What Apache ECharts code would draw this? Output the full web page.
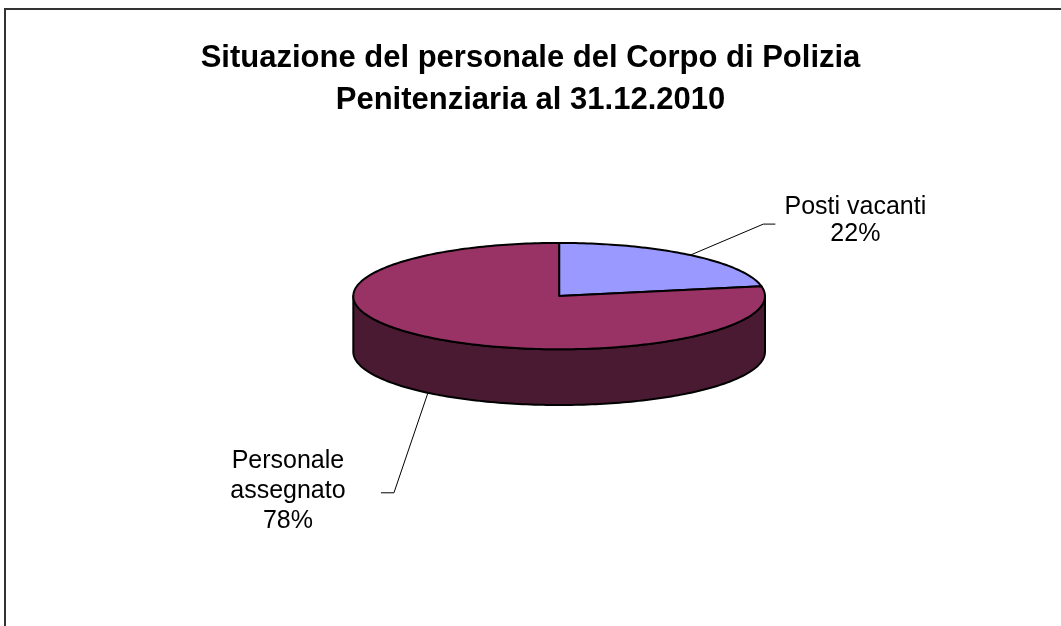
<!DOCTYPE html>
<html>
<head>
<meta charset="utf-8">
<script src="https://cdn.jsdelivr.net/npm/echarts@6/dist/echarts.min.js"></script>
<style>
  html, body { margin: 0; padding: 0; background: #fff; }
  #chart { width: 1061px; height: 626px; }
</style>
</head>
<body>
<div id="chart"></div>
<script>
// dati del grafico
var sliceNames = ['Posti vacanti', 'Personale assegnato'];
var sliceLabels = ['Posti vacanti', 'Personale\nassegnato'];
var sliceValues = [22, 78];
var sliceColors = ['#9999FF', '#993366'];
var sideColors = ['#4D4D80', '#4A1A33'];

var total = sliceValues.reduce(function (a, b) { return a + b; }, 0);

// label placement (offsets from the slice anchor on the rim)
var leaderOffsets = [[73, -31, 12], [-34, 100, -13]];
var textOffsets = [[80, -3, 'center', 27], [-93, -2, 'center', 30]];

function renderSlice(params, api) {
  var i = params.dataIndex;
  var w = api.getWidth(), h = api.getHeight();
  var cx = w * 0.527, cy = h * 0.473;
  var rx = w * 0.194, ry = h * 0.085, depth = h * 0.089;

  var start = 0;
  for (var k = 0; k < i; k++) start += sliceValues[k];
  var a0 = start / total * Math.PI * 2;
  var a1 = (start + api.value(0)) / total * Math.PI * 2;

  function pt(a, dy) {
    return [cx + rx * Math.sin(a), cy - ry * Math.cos(a) + (dy || 0)];
  }
  function arc(from, to, dy) {
    var pts = [], n = Math.max(4, Math.ceil(Math.abs(to - from) / 0.02));
    for (var s = 0; s <= n; s++) pts.push(pt(from + (to - from) * s / n, dy));
    return pts;
  }

  var children = [];
  // lato visibile (metà anteriore)
  var s0 = Math.max(a0, Math.PI / 2), s1 = Math.min(a1, Math.PI * 1.5);
  if (s1 > s0) {
    var side = arc(s0, s1, 0).concat(arc(s1, s0, depth));
    children.push({
      type: 'polygon', z2: 1,
      shape: { points: side },
      style: { fill: sideColors[i], stroke: '#000', lineWidth: 2, lineJoin: 'round' }
    });
  }
  // faccia superiore
  children.push({
    type: 'polygon', z2: 2,
    shape: { points: [[cx, cy]].concat(arc(a0, a1, 0)) },
    style: { fill: sliceColors[i], stroke: '#000', lineWidth: 2, lineJoin: 'round' }
  });

  // linea guida ed etichetta
  var mid = (a0 + a1) / 2;
  var onFront = mid > Math.PI / 2 && mid < Math.PI * 1.5;
  var p0 = pt(mid, onFront ? depth : 0);
  var lo = leaderOffsets[i];
  var p1 = [p0[0] + lo[0], p0[1] + lo[1]];
  var p2 = [p1[0] + lo[2], p1[1]];
  children.push({
    type: 'polyline', z2: 3,
    shape: { points: [p0, p1, p2] },
    style: { stroke: '#000', lineWidth: 1, fill: null }
  });
  var to = textOffsets[i];
  children.push({
    type: 'text', z2: 3,
    x: p2[0] + to[0], y: p2[1] + to[1],
    style: {
      text: sliceLabels[i] + '\n' + Math.round(api.value(0) / total * 100) + '%',
      fontFamily: 'Liberation Sans, Arial, sans-serif',
      fontSize: 25, lineHeight: to[3],
      fill: '#000', align: to[2], verticalAlign: 'middle'
    }
  });

  return { type: 'group', children: children };
}

var chart = echarts.init(document.getElementById('chart'));
chart.setOption({
  backgroundColor: '#fff',
  animation: false,
  title: {
    text: 'Situazione del personale del Corpo di Polizia\nPenitenziaria al 31.12.2010',
    left: 'center',
    top: 32,
    textStyle: {
      fontFamily: 'Liberation Sans, Arial, sans-serif',
      fontSize: 31, fontWeight: 'bold', lineHeight: 42, color: '#000'
    }
  },
  graphic: [{
    type: 'rect', silent: true, z: -1,
    shape: { x: 5, y: 9, width: 1100, height: 700 },
    style: { fill: null, stroke: '#333', lineWidth: 2 }
  }],
  series: [{
    type: 'custom',
    coordinateSystem: 'none',
    renderItem: renderSlice,
    data: sliceValues.map(function (v, i) { return { name: sliceNames[i], value: [v] }; })
  }]
});
</script>
</body>
</html>
